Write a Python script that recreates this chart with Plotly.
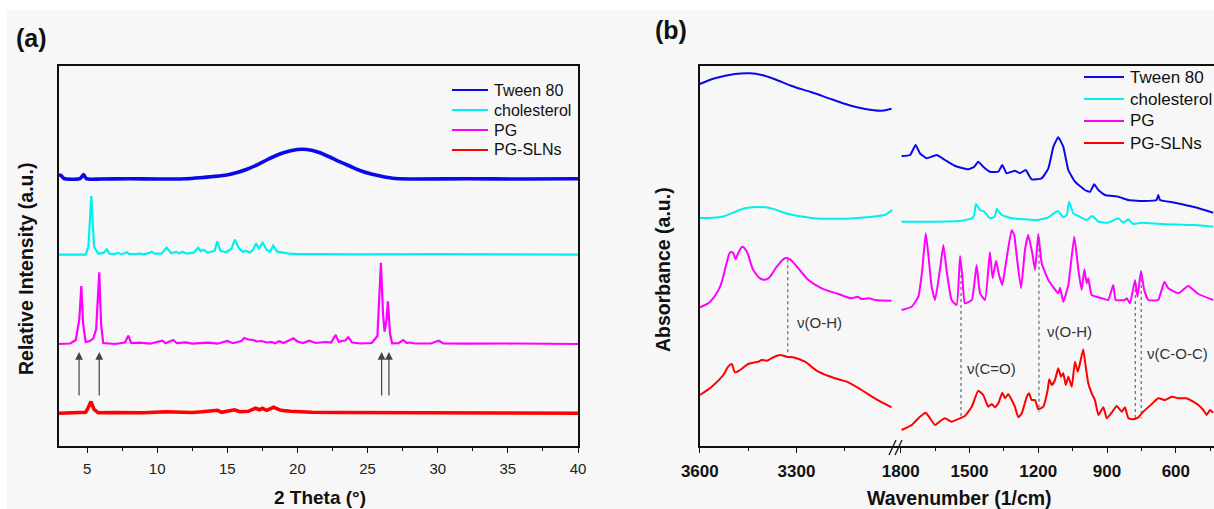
import plotly.graph_objects as go

W, H = 1214, 509
FONT = "Arial, Liberation Sans, sans-serif"

# ---------------- (a) XRD data (intensity above each pattern's own baseline) ----------------
xrd_offset_tween = 266.7
xrd_offset_chol = 191.0
xrd_offset_pg = 101.7
xrd_offset_sln = 32.4

tween_xrd = [(3.0, 4), (3.15, 3.5), (3.35, 0.5), (4.5, 0.3), (4.75, 4.5), (4.95, 0.3), (6, 0), (8, 0.3),
             (10, 0), (12, 0.3), (13.07, 1.3), (14.0, 2.5), (14.96, 4), (15.7, 6.5), (16.4, 9.7),
             (17.1, 14), (17.8, 19), (18.4, 23), (19.0, 26.3), (19.6, 28.5), (20.3, 29.7), (21.0, 28.8),
             (21.6, 26.3), (22.3, 22), (23.0, 17.3), (23.8, 12.5), (24.5, 8.3), (25.2, 5.2), (25.9, 3),
             (26.8, 0.7), (28, 0), (32, 0.2), (36, 0), (40, 0.2)]

chol_xrd = [(3, 0), (4.9, 0), (5.1, 8), (5.3, 58.7), (5.5, 8), (5.8, 1), (6.2, 2), (6.4, 5.3), (6.6, 1),
            (7.0, 0.5), (7.18, 2), (7.4, 0.5), (7.7, 1.5), (7.82, 2.7), (8.0, 0.8), (8.5, 0.5), (8.72, 1.3),
            (9.0, 0.3), (9.4, 1.5), (9.6, 3), (9.8, 1), (10.3, 1), (10.67, 7), (11.0, 1.5), (11.34, 2.7),
            (11.6, 1.5), (11.82, 3), (12.1, 1), (12.6, 2), (12.93, 7), (13.1, 3.5), (13.29, 5), (13.6, 2),
            (13.95, 3), (14.1, 4), (14.28, 13.3), (14.5, 4), (14.9, 2.5), (15.3, 6), (15.54, 15), (15.85, 6),
            (16.1, 3), (16.33, 4), (16.6, 2), (16.85, 5), (17.04, 11.3), (17.25, 6), (17.52, 12), (17.8, 5),
            (18.05, 3), (18.27, 9), (18.55, 3), (18.99, 2), (19.4, 1), (20, 0.5), (21.37, 1), (22, 0.5),
            (24, 0.3), (26, 0.5), (28.5, 0.3), (30, 0.5), (35, 0.3), (40, 0)]

pg_xrd = [(3, 0), (3.8, 0.5), (4.2, 4), (4.45, 25), (4.59, 58), (4.72, 20), (4.9, 2), (5.2, 3), (5.45, 5.7),
          (5.65, 15), (5.87, 71.7), (6.0, 20), (6.15, 1), (7.0, 0), (7.7, 1.5), (7.94, 8.3), (8.15, 1),
          (8.72, 1.3), (9.5, 0.3), (10.36, 3.3), (10.6, 0.8), (11.15, 4), (11.4, 0.8), (12.03, 1.7),
          (12.5, 0.3), (13.64, 1.3), (14.3, 0.3), (15.0, 3), (15.4, 0.8), (16.0, 3), (16.21, 6), (16.5, 4.5),
          (16.85, 4), (17.1, 2.5), (17.45, 3), (17.8, 1.5), (18.16, 2), (18.4, 0.8), (18.7, 2.7), (19.0, 1),
          (19.4, 3.5), (19.7, 5.7), (20.0, 2.5), (20.4, 1), (20.84, 3.3), (21.3, 1), (22.01, 2), (22.4, 1.5),
          (22.72, 9), (22.95, 2), (23.15, 3), (23.4, 3.5), (23.62, 6.7), (23.9, 1.5), (24.5, 0.5), (25.3, 1),
          (25.7, 8), (25.95, 81.3), (26.1, 30), (26.21, 12.3), (26.35, 25), (26.45, 42.7), (26.6, 10),
          (26.75, 0.7), (27.2, 0.8), (27.54, 4), (27.8, 1), (28.0, 1.5), (28.4, 0.5), (29.5, 0.5),
          (30.08, 3.3), (30.4, 0.5), (32, 0.3), (35.5, 0.5), (40, 0)]

sln_xrd = [(3, 0), (4, 0.5), (4.9, 1), (5.1, 6), (5.28, 11.7), (5.5, 4), (5.8, 0.5), (7, 0.8), (9, 0.5),
           (10.6, 1.5), (12.5, 0.8), (13.2, 1.5), (14.3, 3), (14.6, 1), (15.5, 3.5), (15.9, 1.5), (16.5, 2),
           (17.0, 5), (17.3, 3.5), (17.5, 5), (17.8, 3), (18.3, 6), (18.8, 3), (19.5, 2), (21, 1), (23, 0.8),
           (25, 0.8), (27, 0.5), (30, 0.3), (35, 0.3), (40, 0)]

arrow_2theta = [4.43, 5.87, 26.0, 26.52]
arrow_head, arrow_tail = 93.7, 48.7

# ---------------- (b) FTIR data (wavenumber, stacked absorbance a.u.) ----------------
tween_ir_hi_wn = [3600, 3553, 3491, 3444, 3408, 3367, 3315, 3253, 3191, 3139, 3087, 3036, 3005]
tween_ir_hi = [361.7, 367.4, 371.7, 372.4, 370.7, 366.4, 359.7, 353.4, 346.4, 340.7, 336.7, 335, 337]
chol_ir_hi_wn = [3600, 3530, 3460, 3387, 3325, 3253, 3149, 3067, 3025, 3003]
chol_ir_hi = [227.7, 229, 237.4, 238, 231.7, 227.7, 227, 229, 231, 235.7]
pg_ir_hi_wn = [3600, 3568, 3537, 3517, 3506, 3496, 3489, 3481, 3468, 3454, 3434, 3408, 3387, 3361, 3336,
               3320, 3294, 3263, 3222, 3170, 3129, 3110, 3098, 3075, 3056, 3005]
pg_ir_hi = [138.4, 144, 159, 182.4, 193.4, 192.4, 186.4, 192.4, 199, 194, 175.7, 166.4, 167.4, 179, 187.4,
            186.4, 177.4, 165.7, 157.4, 151.7, 147.4, 149, 146.7, 147.4, 145.7, 145]
sln_ir_hi_wn = [3600, 3563, 3527, 3512, 3501, 3491, 3475, 3450, 3434, 3418, 3408, 3392, 3372, 3351, 3330,
                3305, 3274, 3232, 3181, 3144, 3098, 3057, 3005]
sln_ir_hi = [50.7, 59, 70.7, 79, 81.7, 73.4, 75.7, 81.7, 83, 84, 85.7, 85, 88.4, 90.7, 89, 88, 84, 74,
             67.4, 64, 55.7, 47.4, 38.4]

tween_ir_lo_wn = [1796, 1759, 1735, 1716, 1687, 1643, 1607, 1563, 1505, 1479, 1462, 1440, 1411, 1374, 1357,
                  1338, 1302, 1280, 1255, 1229, 1185, 1156, 1134, 1113, 1091, 1069, 1040, 997, 974, 956,
                  938, 909, 851, 807, 735, 684, 677, 669, 604, 516, 437]
tween_ir_lo = [289.7, 290.7, 300.7, 292.4, 287.4, 290.7, 285.7, 279.7, 276.4, 279, 284, 279, 274, 274, 280.7,
               272.4, 275, 272.4, 275.7, 266.4, 267.4, 277.4, 299, 308.4, 299, 275.7, 264, 255.7, 254,
               261.4, 255.7, 250.7, 249, 245.7, 244.7, 245.7, 250.7, 245.7, 243, 238.4, 233]
chol_ir_lo_wn = [1796, 1680, 1534, 1490, 1480, 1472, 1454, 1435, 1411, 1390, 1381, 1360, 1316, 1258, 1200,
                 1156, 1115, 1091, 1075, 1066, 1047, 1025, 989, 964, 938, 895, 851, 829, 807, 786, 749,
                 662, 517, 437]
chol_ir_lo = [224, 224, 225, 227.4, 230, 241.7, 235.7, 234, 227.4, 229, 236.7, 230.7, 227.4, 226.4, 225.7,
              228.4, 234.7, 228.4, 231, 244, 232.4, 229.7, 225.7, 229.7, 224, 223, 227.4, 223, 226.4,
              221.7, 223, 221.7, 220.7, 219]
pg_ir_lo_wn = [1796, 1752, 1723, 1706, 1691, 1680, 1665, 1650, 1629, 1614, 1600, 1578, 1556, 1541, 1531,
               1520, 1490, 1469, 1454, 1432, 1411, 1399, 1384, 1371, 1357, 1338, 1316, 1305, 1292, 1275,
               1258, 1244, 1226, 1214, 1200, 1185, 1156, 1113, 1105, 1091, 1069, 1043, 1025, 1011, 999,
               989, 982, 967, 923, 895, 873, 862, 822, 814, 800, 778, 767, 752, 738, 720, 677, 650, 633,
               589, 546, 502, 437]
pg_ir_lo = [135.7, 139, 149, 175.7, 212.4, 192.4, 159, 145.7, 175.7, 200.7, 175.7, 145.7, 140.7, 189.7, 169,
            142.4, 145.7, 180.7, 152.4, 145.7, 193.4, 167.4, 185, 170.7, 160.7, 187.4, 215.7, 210.7, 185.7,
            157.4, 195.7, 210.7, 192.4, 175.7, 211.7, 182.4, 165.7, 152.4, 158, 144, 160.7, 209, 175.7,
            155.7, 176.4, 162.4, 167.4, 150.7, 147.4, 145.7, 160.7, 145.7, 145.7, 147.4, 142.4, 165.7, 149,
            175, 155.7, 145.7, 145.7, 164, 157.4, 152.4, 159.7, 151.7, 145.7]
sln_ir_lo_wn = [1796, 1752, 1716, 1691, 1672, 1650, 1621, 1607, 1578, 1541, 1520, 1490, 1462, 1440, 1418,
                1403, 1389, 1374, 1357, 1345, 1331, 1316, 1302, 1287, 1272, 1250, 1240, 1229, 1214, 1200,
                1178, 1159, 1152, 1141, 1127, 1113, 1101, 1091, 1080, 1069, 1054, 1040, 1028, 1018, 1004,
                993, 982, 967, 953, 938, 916, 901, 880, 858, 836, 822, 807, 786, 764, 742, 705, 677, 647,
                618, 589, 553, 538, 524, 502, 480, 466, 451, 437]
sln_ir_lo = [15.7, 20.7, 29, 33, 27.4, 20.7, 25.7, 27.4, 24, 27.4, 29.7, 39, 55, 50.7, 39, 41.7, 38.4, 42.4,
             53, 47.4, 51.7, 45.7, 39, 28.4, 32.4, 49, 52.4, 45.7, 45.7, 36.4, 39, 55.7, 66.4, 60.7, 65.7,
             77.4, 69, 72.4, 60.7, 69, 59, 84, 74, 82.4, 96.4, 79, 62.4, 52.4, 45.7, 30.7, 38.4, 27.4, 33,
             39.7, 34, 38.4, 27.4, 26.4, 28.4, 34, 41.7, 47.4, 45.7, 49, 47.4, 47.4, 45.7, 44, 40.7, 35.7,
             30.7, 35.7, 33]

# band assignments: (wavenumber, top, bottom)
band_lines_hi = [(3327, 186.4, 90.7)]
band_lines_lo = [(1537, 170.7, 29), (1197, 209, 34), (777, 162.7, 27.4), (751, 172.7, 27.4)]
band_labels_hi = [("ν(O-H)", 3230, 123)]
band_labels_lo = [("ν(C=O)", 1406, 77.4), ("ν(O-H)", 1062, 114), ("ν(C-O-C)", 591, 92.4)]

names = ["Tween 80", "cholesterol", "PG", "PG-SLNs"]
colors = ["#0a0ae8", "#00f0f0", "#ff00ff", "#ff0000"]


def px(p):
    return p / W


def py(p):
    return 1 - p / H


fig = go.Figure()

# XRD traces
xrd_sets = [(tween_xrd, xrd_offset_tween, 3.6, "spline"), (chol_xrd, xrd_offset_chol, 2.2, "linear"),
            (pg_xrd, xrd_offset_pg, 2.2, "linear"), (sln_xrd, xrd_offset_sln, 3.6, "linear")]
for (pts, off, lw, shp), nm, c in zip(xrd_sets, names, colors):
    fig.add_trace(go.Scatter(x=[p[0] for p in pts], y=[p[1] + off for p in pts], mode="lines",
                             name=nm, line=dict(color=c, width=lw, shape=shp, smoothing=0.6),
                             xaxis="x", yaxis="y", showlegend=False))

# FTIR traces
ir_sets = [(tween_ir_hi_wn, tween_ir_hi, tween_ir_lo_wn, tween_ir_lo),
           (chol_ir_hi_wn, chol_ir_hi, chol_ir_lo_wn, chol_ir_lo),
           (pg_ir_hi_wn, pg_ir_hi, pg_ir_lo_wn, pg_ir_lo),
           (sln_ir_hi_wn, sln_ir_hi, sln_ir_lo_wn, sln_ir_lo)]
for (hx, hy, lx, ly), nm, c in zip(ir_sets, names, colors):
    fig.add_trace(go.Scatter(x=hx, y=hy, mode="lines", name=nm,
                             line=dict(color=c, width=2, shape="spline", smoothing=0.8),
                             xaxis="x2", yaxis="y2", showlegend=False))
    fig.add_trace(go.Scatter(x=lx, y=ly, mode="lines", name=nm,
                             line=dict(color=c, width=2, shape="spline", smoothing=0.4),
                             xaxis="x3", yaxis="y2", showlegend=False))

# band dotted lines
for wn, top, bot in band_lines_hi:
    fig.add_trace(go.Scatter(x=[wn, wn], y=[top, bot], mode="lines", showlegend=False,
                             line=dict(color="#666", width=1.2, dash="dot"), xaxis="x2", yaxis="y2"))
for wn, top, bot in band_lines_lo:
    fig.add_trace(go.Scatter(x=[wn, wn], y=[top, bot], mode="lines", showlegend=False,
                             line=dict(color="#666", width=1.2, dash="dot"), xaxis="x3", yaxis="y2"))

ann = []
for t, wn, yv in band_labels_hi:
    ann.append(dict(text=t, x=wn, y=yv, xref="x2", yref="y2", showarrow=False,
                    xanchor="center", yanchor="middle", font=dict(size=15, color="#333")))
for t, wn, yv in band_labels_lo:
    ann.append(dict(text=t, x=wn, y=yv, xref="x3", yref="y2", showarrow=False,
                    xanchor="center", yanchor="middle", font=dict(size=15, color="#333")))
for a in arrow_2theta:
    ann.append(dict(text="", x=a, y=arrow_head, ax=a, ay=arrow_tail, xref="x", yref="y",
                    axref="x", ayref="y", showarrow=True, arrowhead=2, arrowsize=1.3,
                    arrowwidth=1.2, arrowcolor="#444"))


def label(text, x, y, size, angle=0, xa="center"):
    return dict(text=text, x=px(x), y=py(y), xref="paper", yref="paper", showarrow=False,
                xanchor=xa, yanchor="middle", textangle=angle, font=dict(size=size, color="#111"))


ann += [
    label("<b>(a)</b>", 31, 38, 25),
    label("<b>(b)</b>", 671, 30, 25),
    label("<b>2 Theta (°)</b>", 320, 497, 19),
    label("<b>Wavenumber (1/cm)</b>", 959, 498, 19.5),
    label("<b>Relative Intensity (a.u.)</b>", 26, 269, 19.5, -90),
    label("<b>Absorbance (a.u.)</b>", 663, 270, 19.5, -90),
]

shapes = [
    dict(type="rect", xref="paper", yref="paper", x0=px(7), x1=1, y0=0, y1=py(10),
         fillcolor="#f7f7f7", line=dict(width=0), layer="below"),
    dict(type="line", xref="paper", yref="paper", x0=px(889), y0=py(455), x1=px(896), y1=py(440),
         line=dict(color="#111", width=1.3)),
    dict(type="line", xref="paper", yref="paper", x0=px(895), y0=py(455), x1=px(902), y1=py(440),
         line=dict(color="#111", width=1.3)),
]

# legends (one per panel): sample line + label
legend_a = dict(x0=452, x1=488, tx=492, y0=90, dy=20, size=16)
legend_b = dict(x0=1084, x1=1124, tx=1128, y0=77, dy=22, size=17)
for lg in (legend_a, legend_b):
    for i, (nm, c) in enumerate(zip(names, colors)):
        yy = lg["y0"] + i * lg["dy"]
        shapes.append(dict(type="line", xref="paper", yref="paper", x0=px(lg["x0"]), x1=px(lg["x1"]),
                           y0=py(yy), y1=py(yy), line=dict(color=c, width=2.2)))
        ann.append(label(nm, lg["tx"], yy, lg["size"], xa="left"))

ydom = [py(445.7), py(65.7)]
axis_common = dict(showgrid=False, zeroline=False, showline=True, linecolor="#111", linewidth=1.5,
                   automargin=False)

fig.update_layout(
    width=W, height=H, autosize=False,
    margin=dict(l=0, r=0, t=0, b=0),
    paper_bgcolor="white", plot_bgcolor="rgba(0,0,0,0)",
    font=dict(family=FONT, color="#111"),
    showlegend=False,
    annotations=ann, shapes=shapes,
    xaxis=dict(domain=[px(59), px(578)], range=[3, 40], anchor="y", mirror=True,
               tickmode="array", tickvals=[5, 10, 15, 20, 25, 30, 35, 40],
               ticks="outside", ticklen=6, tickwidth=1.3, tickcolor="#111",
               tickfont=dict(size=15, color="#222"), ticklabelstandoff=3,
               minor=dict(tickmode="array", tickvals=[7.5, 12.5, 17.5, 22.5, 27.5, 32.5, 37.5],
                          ticks="outside", ticklen=4, tickwidth=1.2, tickcolor="#111"),
               **axis_common),
    yaxis=dict(domain=ydom, range=[0, 380], anchor="x", mirror=True, showticklabels=False,
               ticks="", **axis_common),
    xaxis2=dict(domain=[px(699.8), px(896.5)], range=[3600, 2989.7], anchor="y2", mirror=True,
                tickmode="array", tickvals=[3600, 3300],
                ticks="outside", ticklen=6, tickwidth=1.3, tickcolor="#111",
                tickfont=dict(size=17, color="#111", weight="bold"), ticklabelstandoff=3,
                minor=dict(tickmode="array", tickvals=[3450, 3150], ticks="outside", ticklen=4,
                           tickwidth=1.2, tickcolor="#111"),
                **axis_common),
    xaxis3=dict(domain=[px(896.5), 1.0], range=[1818.3, 433.6], anchor="y2", mirror=True,
                tickmode="array", tickvals=[1800, 1500, 1200, 900, 600],
                ticks="outside", ticklen=6, tickwidth=1.3, tickcolor="#111",
                tickfont=dict(size=17, color="#111", weight="bold"), ticklabelstandoff=3,
                minor=dict(tickmode="array", tickvals=[1650, 1350, 1050, 750, 450], ticks="outside",
                           ticklen=4, tickwidth=1.2, tickcolor="#111"),
                **axis_common),
    yaxis2=dict(domain=ydom, range=[0, 380], anchor="x2", mirror=False, showticklabels=False,
                ticks="", **axis_common),
)

fig.write_html("out.html")
